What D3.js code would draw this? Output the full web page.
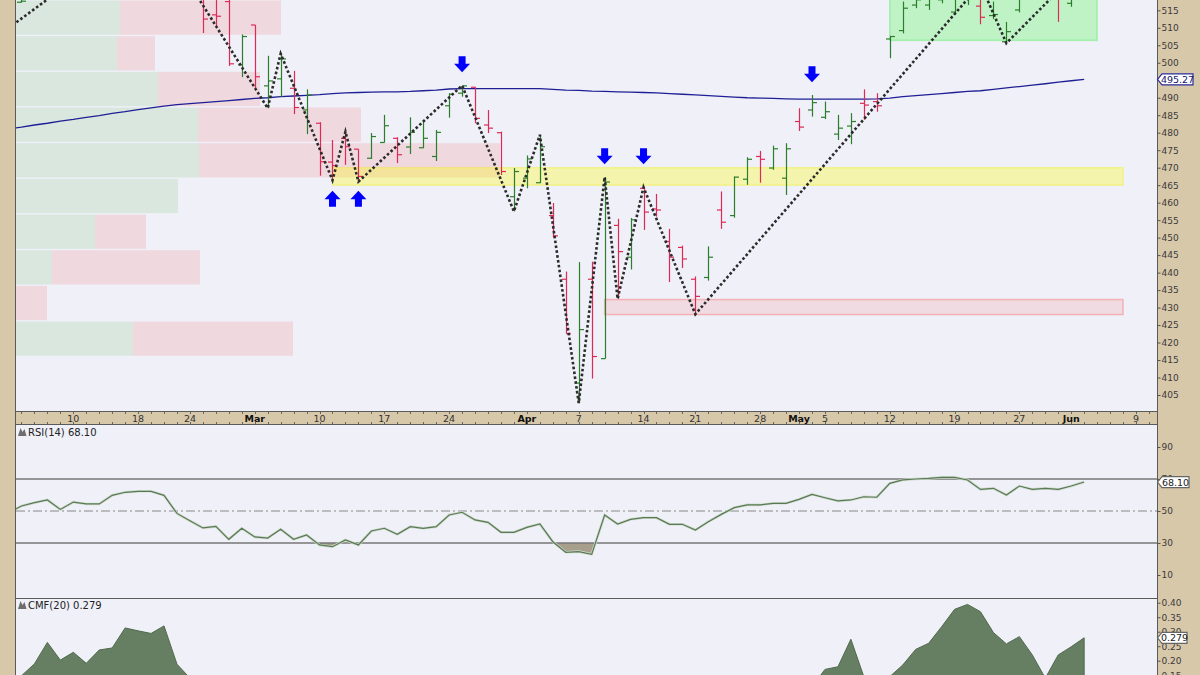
<!DOCTYPE html>
<html><head><meta charset="utf-8">
<script src="https://cdn.jsdelivr.net/npm/d3@7"></script>
<style>body{margin:0;background:#d8c8aa;}svg{display:block}</style>
</head><body><svg id="c" width="1200" height="675"></svg>
<script>
// ---------------- DATA ----------------
const holidays = ["2025-02-17","2025-04-18","2025-05-26"];
const barDates = ["2025-02-04","2025-02-25","2025-02-26","2025-02-27","2025-02-28","2025-03-03","2025-03-04","2025-03-05","2025-03-06","2025-03-07",
"2025-03-10","2025-03-11","2025-03-12","2025-03-13","2025-03-14","2025-03-17","2025-03-18","2025-03-19","2025-03-20","2025-03-21",
"2025-03-24","2025-03-25","2025-03-26","2025-03-27","2025-03-28","2025-03-31","2025-04-01","2025-04-02","2025-04-03","2025-04-04",
"2025-04-07","2025-04-08","2025-04-09","2025-04-10","2025-04-11","2025-04-14","2025-04-15","2025-04-16","2025-04-17","2025-04-21",
"2025-04-22","2025-04-23","2025-04-24","2025-04-25","2025-04-28","2025-04-29","2025-04-30","2025-05-01","2025-05-02","2025-05-05",
"2025-05-06","2025-05-07","2025-05-08","2025-05-09","2025-05-12","2025-05-13","2025-05-14","2025-05-15","2025-05-16","2025-05-19",
"2025-05-20","2025-05-21","2025-05-22","2025-05-23","2025-05-27","2025-05-28","2025-05-29","2025-05-30","2025-06-02","2025-06-03"];
const opens = [517.3,519.0,513.7,517.5,499.4,510.8,493.4,495.4,492.7,486.5,
482.7,471.6,478.4,475.3,472.7,477.2,478.4,475.9,475.7,473.2,
487.7,491.3,493.0,482.2,480.0,461.7,467.0,465.7,456.3,438.1,
408.4,438.1,415.4,453.5,444.4,464.1,458.2,448.9,447.2,438.1,
438.6,457.9,456.3,466.7,473.2,469.9,467.0,483.2,486.5,484.4,
479.6,481.9,488.4,488.9,506.8,509.2,516.5,516.5,518.0,514.5,
519.5,516.2,513.5,506.0,515.1,521.0,521.5,520.0,517.0,522.0];
const highs = [525.0,520.0,519.0,519.5,508.1,510.8,502.0,502.6,497.7,492.4,
483.0,477.9,480.3,475.3,479.9,485.1,478.7,484.4,483.5,480.8,
491.3,493.5,493.0,486.5,480.3,469.9,473.5,479.4,459.9,440.3,
443.0,443.1,467.3,455.4,455.6,464.4,462.5,452.5,447.7,438.9,
447.5,463.2,467.5,473.0,474.8,476.3,477.0,487.0,490.8,488.9,
485.1,485.6,492.4,491.3,507.7,517.5,519.0,519.5,521.0,522.0,
521.0,522.5,517.5,511.7,521.0,522.0,522.0,521.0,523.0,525.0];
const lows = [517.2,508.5,510.5,499.1,495.9,492.7,487.0,490.2,485.3,479.6,
467.7,466.4,470.8,466.0,472.5,477.2,471.3,473.9,475.6,471.9,
484.3,490.3,482.7,479.9,467.9,457.5,464.1,465.6,450.1,422.5,
402.7,409.7,415.4,432.5,440.9,452.2,456.0,437.3,441.3,428.1,
437.7,452.5,455.7,465.1,465.7,469.4,462.2,480.5,484.6,483.9,
477.9,476.7,483.7,486.0,501.3,508.4,515.6,515.1,517.0,513.7,
516.5,511.0,512.5,505.6,514.4,518.3,518.2,511.7,516.0,519.5];
const closes = [517.6,512.5,513.3,499.7,507.5,496.0,494.8,501.1,487.2,490.8,
471.7,470.6,476.0,467.5,478.9,482.0,473.7,480.1,478.4,480.1,
491.0,493.4,484.1,481.3,468.9,468.9,472.5,476.0,450.5,422.5,
423.7,416.0,465.9,446.0,455.1,457.3,457.9,444.4,443.9,433.2,
444.4,454.4,467.3,472.4,472.4,475.4,475.4,481.6,488.6,486.0,
481.3,483.2,487.9,487.7,507.5,515.6,518.0,518.5,520.5,521.0,
520.5,513.0,513.8,508.9,520.5,518.8,519.5,519.0,522.5,524.0];

// daily series starting 2025-02-03 through 2025-06-03
const seriesStart = "2025-02-03";
const ma200 = [481.1,481.6,482.2,482.7,483.3,483.8,484.4,484.9,485.5,486.0,486.6,487.1,487.6,488.0,488.3,488.6,488.9,489.2,489.5,489.8,
490.0,490.3,490.5,490.7,490.9,491.2,491.4,491.5,491.6,491.7,491.7,491.8,492.0,492.2,492.5,492.6,492.6,492.6,492.6,492.6,
492.6,492.6,492.4,492.2,492.1,491.9,491.8,491.7,491.6,491.5,491.4,491.2,491.0,490.8,490.6,490.4,490.2,490.0,489.9,489.8,
489.7,489.6,489.6,489.6,489.6,489.6,489.6,489.7,489.9,490.3,490.6,490.9,491.2,491.5,491.8,492.0,492.4,492.8,493.2,493.6,
494.0,494.45,494.85,495.27];
const rsi = [49.0,53.1,55.2,56.9,51.0,55.6,54.4,54.4,59.8,61.7,62.3,62.3,59.8,48.5,43.9,39.4,40.4,32.3,39.2,33.8,
33.1,38.6,32.3,35.0,28.8,27.7,31.9,28.8,37.5,39.2,35.4,40.2,39.2,40.2,47.5,49.2,44.4,42.9,36.7,36.7,
39.8,41.9,30.8,24.2,24.6,22.9,47.5,41.9,44.8,45.8,45.8,41.7,41.7,38.1,43.3,47.9,52.1,53.8,53.8,54.8,
54.8,57.3,60.4,58.3,56.3,56.9,58.9,58.6,67.3,69.4,70.0,70.4,71.0,71.0,69.4,63.5,64.2,60.0,65.6,63.5,
64.2,63.5,65.6,68.1];
const cmf = [0.10,0.148,0.189,0.263,0.202,0.229,0.191,0.237,0.244,0.313,0.303,0.294,0.320,0.188,0.140,0.10,0.09,0.05,0.06,0.03,
0.02,0.04,0.01,0.02,-0.02,-0.03,-0.01,-0.04,-0.02,0.00,-0.02,0.01,0.02,0.03,0.05,0.06,0.04,0.03,-0.01,0.00,
0.02,0.03,-0.02,-0.06,-0.03,-0.08,0.00,-0.02,0.00,-0.01,-0.01,-0.03,-0.03,-0.05,-0.02,0.01,0.04,0.05,0.06,0.07,
0.08,0.09,0.11,0.170,0.179,0.274,0.145,0.10,0.145,0.185,0.239,0.260,0.317,0.377,0.394,0.369,0.297,0.258,0.283,0.220,
0.140,0.220,0.248,0.279];

// ZigZag pivots
const zzDates = ["2025-02-03","2025-02-19","2025-03-04","2025-03-05","2025-03-11","2025-03-12","2025-03-13","2025-03-25","2025-03-31","2025-04-02",
"2025-04-07","2025-04-09","2025-04-10","2025-04-14","2025-04-21","2025-05-21","2025-05-23","2025-06-03"];
const zzPrices = [509.9,540.0,487.0,502.6,466.4,480.3,466.0,493.5,457.5,479.4,402.7,467.3,432.5,464.4,428.1,522.5,505.6,528.0];

// arrow annotations (tip price)
const downArrowDates = ["2025-03-25","2025-04-09","2025-04-14","2025-05-02"];
const downArrowTips = [497.3,471.0,471.0,494.4];
const upArrowDates = ["2025-03-11","2025-03-13"];
const upArrowTips = [463.4,463.4];

// zones
const zoneStart = ["2025-03-11","2025-04-09","2025-05-12"];
const zoneEnd = ["2025-06-06","2025-06-06","2025-06-04"];
const zoneLow = [465.0,428.0,506.4];
const zoneHigh = [470.0,432.3,530.0];

// volume by price
const vbpLow = [416.0,426.2,436.4,446.6,456.8,467.0,477.2,487.4,497.6,507.8];
const vbpHigh = [426.2,436.4,446.6,456.8,467.0,477.2,487.4,497.6,507.8,518.0];
const vbpUp = [117,0,36,79,162,183,182,142,101,104];
const vbpDown = [160,31,148,51,0,301,163,102,38,161];

// ticks (495 sits under the last-value tag, as in the source)
const priceTicks = [405,410,415,420,425,430,435,440,445,450,455,460,465,470,475,480,485,490,500,505,510,515];
const rsiTicks = [10,30,50,70,90];
const cmfTicks = [0.15,0.20,0.25,0.30,0.35,0.40];
const xTickDates = ["2025-02-10","2025-02-18","2025-02-24","2025-03-03","2025-03-10","2025-03-17","2025-03-24","2025-04-01","2025-04-07","2025-04-14",
"2025-04-21","2025-04-28","2025-05-01","2025-05-05","2025-05-12","2025-05-19","2025-05-27","2025-06-02","2025-06-09"];
const xTickLabels = ["10","18","24","Mar","10","17","24","Apr","7","14","21","28","May","5","12","19","27","Jun","9"];
const lastPrice = 495.27, lastRsi = 68.10, lastCmf = 0.279;

// ---------------- CALENDAR / SCALES ----------------
const fmt = d3.timeFormat("%Y-%m-%d");
const tradingDays = d3.timeDay.range(new Date(2025,1,3), new Date(2025,5,14))
  .filter(d => d.getDay() !== 0 && d.getDay() !== 6).map(fmt).filter(s => !holidays.includes(s));
const i0 = tradingDays.indexOf("2025-02-10");
const idx = s => tradingDays.indexOf(s) - i0;
const sIdx = idx(seriesStart);

const L = 16, R = 1157;
const MT = 0, MB = 411, RT = 425, RB = 598, CT = 598, CB = 676;
const x = d3.scaleLinear().domain([0, 82]).range([73.3, 1136.0]);
const xd = s => x(idx(s));
const yP = d3.scaleLinear().domain([405, 515]).range([395, 10.3]);
const yR = d3.scaleLinear().domain([30, 50]).range([543, 511]);
const yC = d3.scaleLinear().domain([0.40, 0.15]).range([602.7, 675.2]);
const xV = d3.scaleLinear().domain([0, 484]).range([L, 500]);

const svg = d3.select("#c");
const font = "DejaVu Sans, Verdana, sans-serif";
svg.append("rect").attr("width",1200).attr("height",675).attr("fill","#d8c8aa");
const defs = svg.append("defs");
function clip(id, y0, y1){ defs.append("clipPath").attr("id",id).append("rect").attr("x",L).attr("y",y0).attr("width",R-L).attr("height",y1-y0); return "url(#"+id+")"; }
const cMain = clip("cm", MT, MB), cRsi = clip("cr", RT, RB), cCmf = clip("cc", CT, CB);
[[MT,MB],[RT,RB],[CT,CB]].forEach(p => svg.append("rect").attr("x",L).attr("y",p[0]).attr("width",R-L).attr("height",p[1]-p[0]).attr("fill","#eff0f8"));

// ---------------- MAIN PANEL ----------------
const gM = svg.append("g").attr("clip-path", cMain);
vbpLow.forEach((lo,k) => {
  const yt = yP(vbpHigh[k]) + 0.7, h = yP(lo) - yP(vbpHigh[k]) - 1.4;
  if (vbpUp[k] > 0) gM.append("rect").attr("x",xV(0)).attr("y",yt).attr("width",xV(vbpUp[k])-xV(0)).attr("height",h).attr("fill","#d9e7df");
  if (vbpDown[k] > 0) gM.append("rect").attr("x",xV(vbpUp[k])).attr("y",yt).attr("width",xV(vbpUp[k]+vbpDown[k])-xV(vbpUp[k])).attr("height",h).attr("fill","#f0d8df");
});
const zFill = ["rgba(255,255,0,0.30)","rgba(255,40,40,0.10)","rgba(0,255,0,0.20)"];
const zStroke = ["rgba(240,240,0,0.35)","rgba(255,60,60,0.30)","rgba(0,230,0,0.25)"];
zoneStart.forEach((s,k) => {
  gM.append("rect").attr("x",xd(s)).attr("y",yP(zoneHigh[k])).attr("width",xd(zoneEnd[k])-xd(s)).attr("height",yP(zoneLow[k])-yP(zoneHigh[k]))
    .attr("fill",zFill[k]).attr("stroke",zStroke[k]).attr("stroke-width",1.5);
});
gM.append("path").datum(ma200).attr("fill","none").attr("stroke","#1f1f95").attr("stroke-width",1.3)
  .attr("d", d3.line().x((d,k)=>x(sIdx+k)).y(d=>yP(d)));
const gB = gM.append("g");
barDates.forEach((s,k) => {
  const cx = Math.round(xd(s)) + 0.5;
  const col = closes[k] >= opens[k] ? "#2b7f2b" : "#df2a55";
  const g = gB.append("g").attr("stroke", col).attr("stroke-width", 1.2);
  g.append("line").attr("x1",cx).attr("x2",cx).attr("y1",yP(highs[k])).attr("y2",yP(lows[k]));
  g.append("line").attr("x1",cx-4.5).attr("x2",cx).attr("y1",yP(opens[k])).attr("y2",yP(opens[k]));
  g.append("line").attr("x1",cx).attr("x2",cx+4.5).attr("y1",yP(closes[k])).attr("y2",yP(closes[k]));
});
gM.append("path").datum(zzDates.map((s,k)=>[xd(s), yP(zzPrices[k])])).attr("fill","none")
  .attr("stroke","#2b2b2b").attr("stroke-width",2.6).attr("stroke-dasharray","2.6,2.3").attr("d", d3.line());
downArrowDates.forEach((s,k) => {
  const cx = xd(s), ty = yP(downArrowTips[k]);
  gM.append("path").attr("fill","#0000ff").attr("d",
    `M${cx-3.5},${ty-16}H${cx+3.5}V${ty-8.5}H${cx+8}L${cx},${ty}L${cx-8},${ty-8.5}H${cx-3.5}Z`);
});
upArrowDates.forEach((s,k) => {
  const cx = xd(s), ty = yP(upArrowTips[k]);
  gM.append("path").attr("fill","#0000ff").attr("d",
    `M${cx-3.5},${ty+16}H${cx+3.5}V${ty+8.5}H${cx+8}L${cx},${ty}L${cx-8},${ty+8.5}H${cx-3.5}Z`);
});

// ---------------- RSI PANEL ----------------
const gR = svg.append("g").attr("clip-path", cRsi);
const rsiPts = rsi.map((v,k)=>[x(sIdx+k), v]);
defs.append("clipPath").attr("id","above70").append("rect").attr("x",L).attr("y",RT).attr("width",R-L).attr("height",yR(70)-RT);
defs.append("clipPath").attr("id","below30").append("rect").attr("x",L).attr("y",yR(30)).attr("width",R-L).attr("height",RB-yR(30));
gR.append("path").datum(rsiPts).attr("clip-path","url(#above70)").attr("fill","#a79e8b")
  .attr("d", d3.area().x(d=>d[0]).y0(yR(70)).y1(d=>yR(d[1])));
gR.append("path").datum(rsiPts).attr("clip-path","url(#below30)").attr("fill","#a79e8b")
  .attr("d", d3.area().x(d=>d[0]).y0(yR(30)).y1(d=>yR(d[1])));
[70,30].forEach(v => gR.append("line").attr("x1",L).attr("x2",R).attr("y1",yR(v)).attr("y2",yR(v)).attr("stroke","#777").attr("stroke-width",1.5));
gR.append("line").attr("x1",L).attr("x2",R).attr("y1",yR(50)).attr("y2",yR(50)).attr("stroke","#888").attr("stroke-width",1).attr("stroke-dasharray","9,3,2,3");
gR.append("path").datum(rsiPts).attr("fill","none").attr("stroke","#cfd9cb").attr("stroke-width",2.6)
  .attr("d", d3.line().x(d=>d[0]).y(d=>yR(d[1])));
gR.append("path").datum(rsiPts).attr("fill","none").attr("stroke","#587a55").attr("stroke-width",1.2)
  .attr("d", d3.line().x(d=>d[0]).y(d=>yR(d[1])));

// ---------------- CMF PANEL ----------------
const gC = svg.append("g").attr("clip-path", cCmf);
gC.append("path").datum(cmf).attr("fill","#667f62").attr("stroke","#51694e").attr("stroke-width",1)
  .attr("d", d3.area().x((d,k)=>x(sIdx+k)).y0(yC(0)).y1(d=>yC(d)));

// ---------------- FRAMES ----------------
const fr = svg.append("g").attr("stroke","#5a5a5a").attr("stroke-width",1);
fr.append("line").attr("x1",L-0.5).attr("x2",L-0.5).attr("y1",0).attr("y2",675);
fr.append("line").attr("x1",R+0.5).attr("x2",R+0.5).attr("y1",0).attr("y2",675);
fr.append("line").attr("x1",L).attr("x2",R).attr("y1",MB+0.5).attr("y2",MB+0.5);
fr.append("line").attr("x1",L).attr("x2",R).attr("y1",RT-0.5).attr("y2",RT-0.5);
fr.append("line").attr("x1",L).attr("x2",R).attr("y1",RB+0.5).attr("y2",RB+0.5);

// ---------------- X AXIS ----------------
const gX = svg.append("g");
tradingDays.forEach((s) => {
  const xx = xd(s);
  if (xx > L + 1 && xx < R - 1) {
    gX.append("line").attr("x1",Math.round(xx)+0.5).attr("x2",Math.round(xx)+0.5).attr("y1",MB+1).attr("y2",MB+3).attr("stroke","#666");
    gX.append("line").attr("x1",Math.round(xx)+0.5).attr("x2",Math.round(xx)+0.5).attr("y1",RT-3).attr("y2",RT-1).attr("stroke","#666");
  }
});
xTickDates.forEach((s,k) => {
  const isMonth = isNaN(+xTickLabels[k]);
  gX.append("text").attr("x",xd(s)).attr("y",MB+11).attr("text-anchor","middle")
    .attr("font-family",font).attr("font-size",9.5).attr("font-weight",isMonth?"bold":"normal")
    .attr("fill", isMonth ? "#111" : "#333").text(xTickLabels[k]);
});

// ---------------- RIGHT AXES ----------------
function rightAxis(scale, ticks, fmtF){
  const g = svg.append("g").attr("transform",`translate(${R+0.5},0)`)
    .call(d3.axisRight(scale).tickValues(ticks).tickSize(3).tickPadding(1).tickFormat(fmtF));
  g.select(".domain").remove();
  g.selectAll(".tick line").attr("stroke","#555");
  g.selectAll(".tick text").attr("font-family",font).attr("font-size",9).attr("fill","#3a3a3a");
  return g;
}
rightAxis(yP, priceTicks, d3.format("d"));
rightAxis(yR, rsiTicks, d3.format("d"));
rightAxis(yC, cmfTicks, d3.format(".2f"));

function valueBox(yv, txt, w, stroke, tcol){
  const g = svg.append("g");
  g.append("path").attr("d",`M${R+0.5},${yv}L${R+5},${yv-5.5}H${R+5+w}V${yv+5.5}H${R+5}Z`)
    .attr("fill","#fff").attr("stroke",stroke).attr("stroke-width",1.2);
  g.append("text").attr("x",R+5+w/2).attr("y",yv+3.5).attr("text-anchor","middle").attr("font-family",font)
    .attr("font-size",9.5).attr("fill",tcol).text(txt);
}
valueBox(yP(lastPrice), lastPrice.toFixed(2), 31, "#2a2a9a", "#14146e");
valueBox(yR(lastRsi), lastRsi.toFixed(2), 27, "#666", "#222");
valueBox(yC(lastCmf), lastCmf.toFixed(3), 25, "#666", "#222");

// ---------------- PANEL TITLES ----------------
function title(y, txt){
  svg.append("path").attr("d",`M18,${y}L20.5,${y-8}L22.5,${y-4}L24.5,${y-7}L26.5,${y}Z`).attr("fill","#6e6e6e");
  svg.append("text").attr("x",28).attr("y",y).attr("font-family",font).attr("font-size",10).attr("fill","#222").text(txt);
}
title(RT+11, "RSI(14) " + lastRsi.toFixed(2));
title(CT+11, "CMF(20) " + lastCmf.toFixed(3));
</script></body></html>
